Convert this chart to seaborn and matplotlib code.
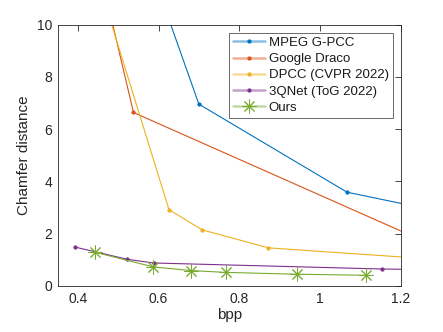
import matplotlib
matplotlib.use("Agg")
import matplotlib.pyplot as plt
import seaborn as sns
import pandas as pd
from matplotlib.lines import Line2D

sns.set_theme(style="white")
plt.rcParams['font.family'] = ['Liberation Sans', 'DejaVu Sans']

labels = ["MPEG G-PCC", "Google Draco", "DPCC (CVPR 2022)", "3QNet (ToG 2022)", "Ours"]
colors = ["#0072BD", "#D95319", "#EDB120", "#7E2F8E", "#77AC30"]

gpcc_bpp = [0.58, 0.700, 1.067, 1.50]
gpcc_cd = [12.2, 6.96, 3.59, 2.20]
draco_bpp = [0.45, 0.538, 1.35]
draco_cd = [12.4, 6.64, 1.08]
dpcc_bpp = [0.46, 0.626, 0.708, 0.872, 1.40]
dpcc_cd = [11.2, 2.92, 2.15, 1.46, 0.90]
qnet_bpp = [0.393, 0.523, 0.588, 1.153, 1.30]
qnet_cd = [1.49, 1.02, 0.88, 0.65, 0.62]
ours_bpp = [0.443, 0.587, 0.680, 0.768, 0.944, 1.115]
ours_cd = [1.29, 0.73, 0.59, 0.52, 0.45, 0.41]

series = [(gpcc_bpp, gpcc_cd), (draco_bpp, draco_cd), (dpcc_bpp, dpcc_cd),
          (qnet_bpp, qnet_cd), (ours_bpp, ours_cd)]
AST = (8, 2, 0)
markers = [".", ".", ".", ".", AST]
msizes = [5, 5, 5, 5, 10]
mews = [0.5, 0.5, 0.5, 0.5, 0.7]

fig = plt.figure(figsize=(4.43, 3.32), dpi=100)
ax = fig.add_axes([0.130, 0.1386, 0.7745, 0.787])

for (bx, cy), lab, c, m, ms, mw in zip(series, labels, colors, markers, msizes, mews):
    df = pd.DataFrame({"bpp": bx, "cd": cy})
    sns.lineplot(data=df, x="bpp", y="cd", ax=ax, color=c, marker=m,
                 markersize=ms, markeredgecolor=c, markerfacecolor=c,
                 markeredgewidth=mw,
                 linewidth=0.8, sort=False, estimator=None, legend=False)

ax.set_xlim(0.35, 1.2)
ax.set_ylim(0, 10)
ax.set_xticks([0.4, 0.6, 0.8, 1.0, 1.2])
ax.set_xticklabels(["0.4", "0.6", "0.8", "1", "1.2"])
ax.set_yticks([0, 2, 4, 6, 8, 10])
ax.tick_params(direction="in", length=4, width=0.6, colors="#262626",
               labelsize=10, top=True, right=True, pad=4)
for s in ax.spines.values():
    s.set_color("#262626")
    s.set_linewidth(0.6)
    s.set_visible(True)
ax.set_xlabel("bpp", fontsize=11, color="#262626", labelpad=2)
ax.set_ylabel("Chamfer distance", fontsize=11, color="#262626", labelpad=4)

hs = []
for c, m, ms, mw in zip(colors, markers, msizes, mews):
    ln = Line2D([0], [0], color=c, linewidth=1.8, alpha=0.45)
    mk = Line2D([0], [0], color=c, marker=m, markersize=ms, linestyle="none",
                markeredgewidth=mw)
    hs.append((ln, mk))
leg = ax.legend(hs, labels, loc="upper right", bbox_to_anchor=(0.977, 0.969),
                borderaxespad=0, fontsize=9.5, frameon=True, fancybox=False,
                handlelength=2.4, handletextpad=0.3, labelspacing=0.3,
                borderpad=0.3)
leg.get_frame().set_edgecolor("#262626")
leg.get_frame().set_linewidth(0.6)
for t in leg.get_texts():
    t.set_color("#1a1a1a")

fig.savefig("out.png", dpi=100)
